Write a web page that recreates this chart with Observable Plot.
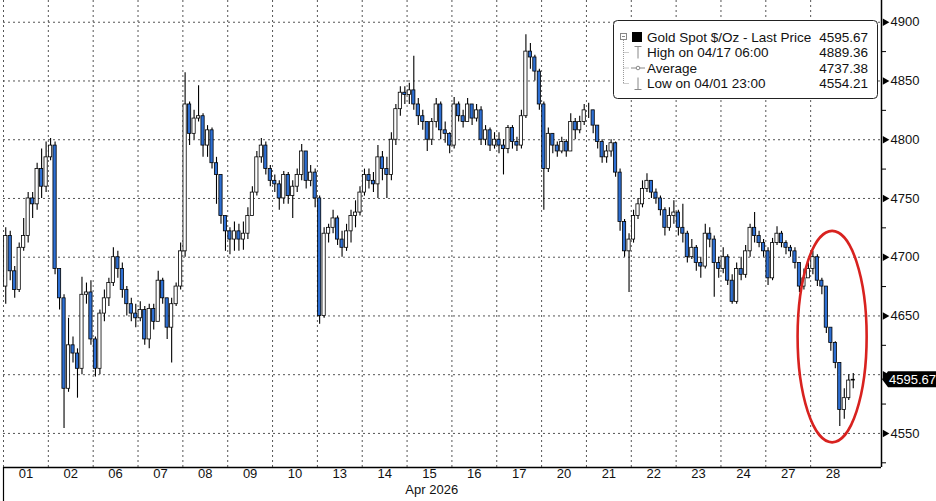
<!DOCTYPE html>
<html><head><meta charset="utf-8">
<script src="https://cdn.jsdelivr.net/npm/d3@7"></script>
<script src="https://cdn.jsdelivr.net/npm/@observablehq/plot@0.6"></script>
<style>
html,body{margin:0;padding:0;background:#fff;}
#chart{position:relative;width:936px;height:501px;overflow:hidden;}
</style></head><body><div id="chart"></div>
<script>
// ---- data ----
const dayLabels = ["01","02","06","07","08","09","10","13","14","15","16","17","20","21","22","23","24","27","28"];
const monthLabel = "Apr 2026";
const barsPerDay = 10;
const firstOpen = 4675;
const close = [
  4718,4688,4672,4708,4718,4750,4745,4775,4760,4785,
  4795,4690,4665,4588,4625,4618,4605,4668,4670,4630,
  4605,4652,4665,4678,4700,4690,4672,4660,4652,4648,
  4655,4630,4656,4645,4680,4665,4640,4660,4675,4705,
  4830,4805,4818,4820,4795,4808,4780,4770,4735,4722,
  4715,4722,4715,4720,4735,4755,4785,4795,4775,4765,
  4762,4750,4770,4752,4760,4770,4790,4765,4772,4750,
  4650,4720,4725,4733,4715,4708,4722,4735,4738,4755,
  4770,4765,4762,4785,4775,4770,4800,4826,4840,4838,
  4842,4830,4820,4815,4800,4815,4830,4808,4805,4795,
  4830,4820,4815,4830,4818,4825,4800,4808,4795,4800,
  4795,4792,4810,4798,4795,4820,4875,4870,4858,4830,
  4775,4805,4795,4790,4798,4790,4815,4808,4815,4825,
  4825,4812,4798,4785,4790,4797,4772,4730,4705,4715,
  4735,4745,4758,4765,4755,4750,4740,4725,4735,4738,
  4725,4720,4700,4708,4695,4692,4720,4715,4695,4690,
  4700,4680,4662,4690,4685,4705,4725,4718,4712,4705,
  4682,4712,4720,4712,4708,4705,4695,4675,4682,4690,
  4700,4680,4675,4640,4627,4610,4570,4580,4595,4595.67
];
const high = [
  4725,4722,4692,4712,4733,4755,4755,4780,4792,4798,
  4801,4798,4690,4668,4648,4632,4622,4683,4678,4680,
  4632,4655,4672,4682,4708,4705,4695,4675,4665,4660,
  4662,4658,4660,4660,4688,4682,4665,4665,4678,4712,
  4857,4832,4825,4846,4822,4812,4810,4785,4770,4735,
  4725,4730,4728,4730,4742,4760,4790,4801,4798,4778,
  4770,4765,4773,4772,4765,4775,4796,4790,4778,4775,
  4752,4725,4728,4740,4735,4722,4728,4740,4748,4760,
  4775,4775,4772,4795,4790,4785,4806,4830,4845,4845,
  4848,4871,4835,4825,4815,4818,4835,4832,4815,4806,
  4836,4832,4825,4835,4830,4830,4828,4812,4810,4806,
  4806,4800,4812,4812,4802,4825,4889.36,4882,4872,4860,
  4832,4810,4805,4798,4802,4800,4822,4818,4820,4830,
  4831,4825,4812,4800,4795,4800,4798,4775,4732,4720,
  4740,4750,4765,4771,4765,4758,4752,4742,4742,4748,
  4740,4745,4722,4715,4710,4700,4728,4725,4718,4700,
  4708,4702,4685,4695,4700,4710,4728,4738,4722,4715,
  4708,4716,4726,4722,4714,4710,4708,4695,4690,4695,
  4705,4702,4682,4672,4638,4628,4610,4588,4600,4601
];
const low = [
  4660,4680,4665,4670,4705,4712,4733,4740,4750,4755,
  4782,4685,4655,4554.21,4585,4610,4580,4600,4660,4625,
  4598,4600,4645,4658,4675,4682,4665,4650,4645,4640,
  4645,4625,4622,4638,4645,4660,4630,4610,4658,4672,
  4700,4795,4800,4815,4785,4785,4775,4745,4728,4705,
  4702,4705,4705,4706,4715,4735,4752,4780,4770,4760,
  4755,4740,4745,4745,4733,4755,4765,4758,4760,4742,
  4643,4648,4712,4720,4710,4700,4705,4712,4725,4735,
  4752,4758,4755,4750,4765,4750,4765,4795,4820,4830,
  4830,4825,4812,4808,4790,4795,4810,4800,4797,4788,
  4792,4815,4810,4815,4812,4815,4795,4795,4790,4792,
  4788,4770,4788,4792,4790,4792,4818,4860,4850,4825,
  4740,4772,4788,4785,4788,4785,4792,4800,4805,4812,
  4818,4805,4792,4780,4780,4785,4768,4722,4700,4670,
  4712,4732,4742,4755,4750,4745,4735,4718,4722,4728,
  4718,4712,4695,4698,4688,4682,4690,4708,4666,4682,
  4686,4676,4660,4660,4680,4682,4700,4712,4708,4700,
  4676,4680,4710,4708,4702,4700,4690,4670,4672,4682,
  4685,4675,4668,4635,4620,4605,4556,4562,4578,4588
];
const yTicks = [4550,4600,4650,4700,4750,4800,4850,4900];
const yMinorTicks = [4525,4575,4625,4675,4725,4775,4825,4875];
const lastPrice = 4595.67;
const legendTitle = "Gold Spot $/Oz - Last Price";
const legendRows = [
  {label: "High on 04/17 06:00", value: "4889.36"},
  {label: "Average", value: "4737.38"},
  {label: "Low on 04/01 23:00", value: "4554.21"}
];

// ---- build table ----
const bars = close.map((c, i) => ({
  t: Math.floor(i / barsPerDay) + ((i % barsPerDay) + 0.5) / barsPerDay,
  o: i ? close[i - 1] : firstOpen,
  h: high[i], l: low[i], c
}));
const dayIdx = dayLabels.map((d, i) => i);
const xDomain = [0, 19.58];
const yDomain = [4521, 4918.5];
const halfBody = 0.036;
const downBlue = "#2d6fd3";
// the last-price tag hides the tick label it sits on
const labelTicks = yTicks.filter(t => Math.abs(t - lastPrice) > 12);

const plot = Plot.plot({
  width: 936, height: 501,
  marginLeft: 3, marginRight: 55, marginTop: 0, marginBottom: 34,
  x: {domain: xDomain, axis: null},
  y: {domain: yDomain, axis: null},
  style: {fontFamily: "'Liberation Sans', Arial, sans-serif", fontSize: "13px", color: "#111", background: "white", overflow: "visible"},
  marks: [
    Plot.ruleY(yTicks, {stroke: "#555", strokeDasharray: "2,3", strokeWidth: 1}),
    Plot.ruleX(dayIdx, {stroke: "#555", strokeDasharray: "2,3", strokeWidth: 1}),
    Plot.ruleX(bars, {x: "t", y1: "l", y2: "h", stroke: "#000", strokeWidth: 1.1}),
    Plot.rect(bars, {
      x1: d => d.t - halfBody, x2: d => d.t + halfBody,
      y1: "o", y2: "c",
      fill: d => d.c >= d.o ? "white" : downBlue,
      stroke: "#000", strokeWidth: 0.8
    }),
    Plot.ruleY([yDomain[0]], {stroke: "#000", strokeWidth: 1.5}),
    Plot.ruleX([xDomain[1]], {stroke: "#000", strokeWidth: 1.5}),
    Plot.ruleX([0], {y1: yDomain[0], y2: yDomain[0] - 40, stroke: "#000", strokeWidth: 1.2}),
    Plot.axisY(yMinorTicks, {anchor: "right", tickSize: 4, tickFormat: () => "", label: null, stroke: "#000"}),
    Plot.axisY(labelTicks, {anchor: "right", tickSize: 0, tickPadding: 9, label: null, tickFormat: d => String(d), fill: "#111"}),
    Plot.dot(yTicks, {y: d => d, frameAnchor: "right", symbol: "triangle", rotate: 90, r: 2.8, dx: 3.5, fill: "#000", stroke: null}),
    Plot.text(dayLabels, {x: (d, i) => i + 0.5, frameAnchor: "bottom", dy: 10, text: d => d, fill: "#111"}),
    Plot.text([monthLabel], {x: 9.55, frameAnchor: "bottom", dy: 26, text: d => d, fill: "#111"})
  ]
});
document.getElementById("chart").appendChild(plot);

// ---- annotations drawn with the plot's scales ----
const xs = plot.scale("x"), ys = plot.scale("y");
const svg = d3.select(plot);

// red highlight ellipse around the final drop
const cx = xs.apply(18.49), cy = ys.apply(4632);
svg.append("ellipse")
  .attr("cx", cx).attr("cy", cy)
  .attr("rx", xs.apply(18.49 + 0.77) - cx)
  .attr("ry", ys.apply(4632 - 90) - cy)
  .attr("fill", "none").attr("stroke", "#d8221f").attr("stroke-width", 2.6);

// last price tag
const xr = xs.apply(xDomain[1]);
const yl = ys.apply(lastPrice);
svg.append("path")
  .attr("d", `M${xr + 1},${yl} L${xr + 7},${yl - 8} L936,${yl - 8} L936,${yl + 8} L${xr + 7},${yl + 8} Z`)
  .attr("fill", "#000");
svg.append("text").attr("x", xr + 8).attr("y", yl).attr("dy", "0.35em")
  .attr("text-anchor", "start").attr("fill", "#fff").attr("font-size", 13).text(lastPrice.toFixed(2));

// legend box
const lg = svg.append("g").attr("transform", "translate(613,20)")
  .attr("font-size", 13.5).attr("fill", "#111").attr("text-anchor", "start");
lg.append("rect").attr("x", 0.5).attr("y", 0.5).attr("width", 264).attr("height", 78)
  .attr("rx", 4).attr("fill", "white").attr("stroke", "#222").attr("stroke-width", 1);
const rowY = [17, 32.5, 48, 63.5];
// tree connector
lg.append("rect").attr("x", 7.5).attr("y", 13.5).attr("width", 6).attr("height", 6)
  .attr("fill", "white").attr("stroke", "#888");
lg.append("line").attr("x1", 9).attr("x2", 12).attr("y1", 16.5).attr("y2", 16.5).attr("stroke", "#888");
lg.append("line").attr("x1", 10.5).attr("x2", 10.5).attr("y1", 20).attr("y2", rowY[3])
  .attr("stroke", "#999").attr("stroke-dasharray", "1,1");
rowY.slice(1).forEach(y => lg.append("line").attr("x1", 10.5).attr("x2", 16).attr("y1", y).attr("y2", y)
  .attr("stroke", "#999").attr("stroke-dasharray", "1,1"));
// black square
lg.append("rect").attr("x", 19).attr("y", 12).attr("width", 10).attr("height", 10).attr("fill", "#000");
// high icon
lg.append("line").attr("x1", 25).attr("x2", 25).attr("y1", rowY[1] - 6).attr("y2", rowY[1] + 6).attr("stroke", "#888");
lg.append("line").attr("x1", 21.5).attr("x2", 28.5).attr("y1", rowY[1] - 6).attr("y2", rowY[1] - 6).attr("stroke", "#888");
// average icon
lg.append("line").attr("x1", 18).attr("x2", 32).attr("y1", rowY[2]).attr("y2", rowY[2]).attr("stroke", "#888");
lg.append("circle").attr("cx", 25).attr("cy", rowY[2]).attr("r", 1.8).attr("fill", "white").attr("stroke", "#888");
// low icon
lg.append("line").attr("x1", 25).attr("x2", 25).attr("y1", rowY[3] - 6).attr("y2", rowY[3] + 6).attr("stroke", "#888");
lg.append("line").attr("x1", 21.5).attr("x2", 28.5).attr("y1", rowY[3] + 6).attr("y2", rowY[3] + 6).attr("stroke", "#888");
// texts
lg.append("text").attr("x", 34).attr("y", rowY[0]).attr("dy", "0.35em").text(legendTitle);
lg.append("text").attr("x", 255).attr("y", rowY[0]).attr("dy", "0.35em").attr("text-anchor", "end").text(lastPrice.toFixed(2));
legendRows.forEach((r, i) => {
  lg.append("text").attr("x", 34).attr("y", rowY[i + 1]).attr("dy", "0.35em").text(r.label);
  lg.append("text").attr("x", 255).attr("y", rowY[i + 1]).attr("dy", "0.35em").attr("text-anchor", "end").text(r.value);
});
</script>
</body></html>
